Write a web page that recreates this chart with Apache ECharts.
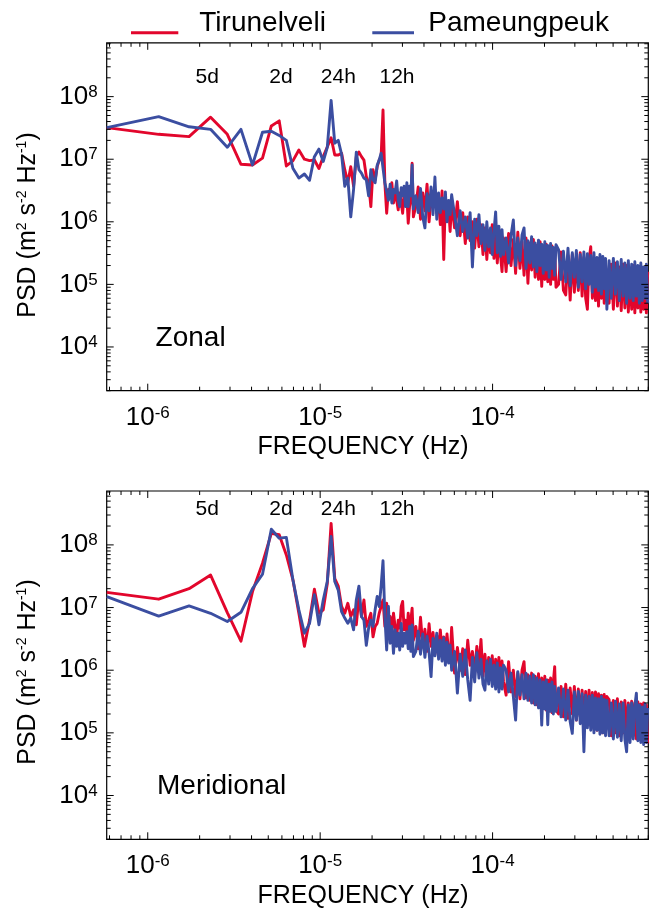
<!DOCTYPE html>
<html><head><meta charset="utf-8">
<script src="https://cdn.jsdelivr.net/npm/echarts@6/dist/echarts.min.js"></script>
<style>html,body{margin:0;padding:0;background:#fff}#c{width:650px;height:912px}</style>
</head><body><div id="c"></div>
<script>
// ---- data ----
const recordLengthSec = 20 * 86400; // 20-day record -> fundamental frequency
// harmonic numbers of the plotted spectral estimates: [start, end, step]
const harmonicRanges = [[1,60,1],[62,100,2],[104,200,4],[207,403,7],[417,795,14],[819,1371,24]];
const seriesNames = ['Tirunelveli', 'Pameungpeuk'];
const panelNames = ['Zonal', 'Meridional'];
const periodLabels = ['5d', '2d', '24h', '12h'];

const zonalTirunelveli = [
3.2e7,2.5e7,2.3e7,4.7e7,2.5e7,8.3e6,8.1e6,1.04e7,3.4e7,4.1e7,
7.8e6,9.4e6,1.4e7,1.0e7,9.5e6,9.7e6,7.1e6,1.1e7,1.57e7,2.2e7,
1.17e7,1.17e7,1.25e7,6.8e6,4.2e6,7.6e6,3.7e6,1.1e7,1.3e7,1.1e7,
9.7e6,5.3e6,4.2e6,1.75e6,6.8e6,4.7e6,7.6e6,9.7e6,1.1e7,6.1e7,
4.2e6,1.37e6,3.3e6,2.6e6,4.2e6,2.0e6,2.9e6,2.2e6,1.55e6,2.9e6,
2.0e6,1.37e6,2.9e6,2.2e6,2.6e6,9.5e5,1.75e6,2.2e6,8.6e6,1.2e6,
1.8e6,3.6e6,1.1e6,2.9e6,1.5e6,4.0e6,1.0e6,2.5e6,1.7e6,3.2e6,1.4e6,2.1e6,9e5,3.1e6,2.5e5,2.4e6,1.2e6,1.8e6,7e5,2.0e6,
8e5,2.1e6,6e5,1.4e6,4.5e5,1.2e6,5e5,1.0e6,3.8e5,1.1e6,4e5,9e5,3e5,8e5,2.5e5,7e5,3.2e5,9e5,2.6e5,6.5e5,2.2e5,6e5,3e5,1.6e5,5.5e5,
1.6e5,6.5e5,2.0e5,5.2e5,1.5e5,6.8e5,1.8e5,4.8e5,1.4e5,5.5e5,1.04e5,4.6e5,1.7e5,5.2e5,1.3e5,4.2e5,1.2e5,4.8e5,9.3e4,4.0e5,1.2e5,4.4e5,1.1e5,3.8e5,1.0e5,4.1e5,1.2e5,3.6e5,9e4,
1.0e5,3.3e5,8e4,6.8e4,2.9e5,5.6e4,3.0e5,7.5e4,2.6e5,8e4,3.2e5,6.5e4,2.7e5,6e4,4e4,2.5e5,4.0e5,6e4,2.4e5,5.5e4,2.6e5,4.5e4,2.2e5,6e4,2.5e5,5e4,2.1e5,5.5e4,
5e4,2.1e5,4e4,2.2e5,4.5e4,1.9e5,3.8e4,2.1e5,4.2e4,2.0e5,3.6e4,1.8e5,4e4,2.0e5,3.5e4,1.7e5,4.2e4,1.9e5,3.6e4,1.8e5,4e4,1.7e5,3.5e4,1.6e5
];
const zonalPameungpeuk = [
3.2e7,4.8e7,3.3e7,3.0e7,1.55e7,3.0e7,8.1e6,2.7e7,2.8e7,2.4e7,
2.0e7,7.2e6,5.0e6,5.8e6,4.6e6,1.1e7,1.45e7,9.2e6,1.55e7,8.7e7,
1.8e7,2.0e7,1.2e7,3.7e6,5.0e6,1.2e6,3.3e6,1.3e7,6.8e6,6.0e6,
5.0e6,4.7e6,2.6e6,6.8e6,4.7e6,4.2e6,8.0e6,9.7e6,1.25e7,1.3e7,
4.2e6,4.0e6,2.2e6,4.0e6,2.0e6,3.3e6,2.9e6,4.5e6,2.2e6,1.75e6,
3.5e6,2.6e6,3.7e6,1.75e6,4.2e6,1.75e6,3.7e6,2.6e6,8.1e6,1.6e6,
2.6e6,1.4e6,3.4e6,1.2e6,8e5,2.8e6,1.5e6,3.6e6,1.3e6,5.2e6,1.1e6,2.9e6,1.4e6,2.4e6,1.6e6,3.0e6,1.0e6,2.2e6,1.3e6,2.7e6,
1.3e6,6e5,1.5e6,7e5,1.2e6,5.5e5,1.4e6,1.9e5,1.1e6,6e5,1.3e6,4.5e5,9e5,3.5e5,1.0e6,4e5,8e5,3e5,7e5,1.44e6,3.2e5,8.5e5,2.8e5,7.5e5,3.0e5,
5.5e5,2.2e5,6e5,1.07e6,2.0e5,5.5e5,2.4e5,6.2e5,8e5,1.8e5,5e5,2.2e5,5.8e5,1.9e5,4.6e5,1.6e5,5.1e5,2.0e5,4.4e5,1.5e5,4.8e5,1.7e5,4.2e5,1.3e5,4.5e5,1.8e5,3.9e5,1.4e5,4.3e5,
3.6e5,1.2e5,3.4e5,1.1e5,3.8e5,9.5e4,3.2e5,1.3e5,3.5e5,9e4,3.0e5,1.1e5,3.3e5,8.5e4,3.1e5,1.0e5,2.9e5,7.5e4,3.2e5,9e4,2.7e5,8e4,3.0e5,7e4,2.8e5,8.5e4,2.6e5,4e4,
2.4e5,6e4,2.6e5,7e4,2.3e5,5.5e4,2.5e5,6.5e4,2.2e5,5e4,2.4e5,6e4,2.1e5,5.5e4,2.3e5,6.5e4,2.0e5,5e4,2.2e5,5.5e4,1.9e5,6e4,2.1e5,5e4
];
const meridionalTirunelveli = [
1.75e7,1.36e7,2.0e7,3.3e7,8.3e6,2.9e6,1.8e7,5.1e7,1.53e8,1.45e8,
6.9e7,2.8e7,8.1e6,2.4e6,6.3e6,1.96e7,8.1e6,9.2e6,2.4e7,2.2e8,
2.9e7,2.2e7,1.04e7,8.1e6,1.17e7,7.2e6,9.2e6,5.3e6,1.5e7,7.2e6,
1.32e7,5.0e6,6.3e6,8.1e6,3.4e6,5.0e6,5.6e6,8.1e6,1.04e7,1.32e7,
5.0e6,1.17e7,5.0e6,7.2e6,3.9e6,8.1e6,5.0e6,3.4e6,6.3e6,4.7e6,
1.04e7,1.25e7,4.4e6,6.3e6,3.9e6,8.1e6,4.4e6,6.3e6,9.8e6,3.0e6,
5.0e6,2.2e6,7.0e6,2.5e6,4.5e6,2.0e6,5.5e6,2.4e6,4.0e6,1.8e6,3.6e6,2.2e6,4.4e6,1.9e6,3.4e6,1.6e6,3.8e6,2.0e6,1.5e6,4.8e6,
9e5,2.3e6,1.0e6,2.2e6,8.5e5,3.0e6,1.2e6,2.0e6,9e5,2.4e6,1.1e6,3.1e6,8e5,1.8e6,7.5e5,1.6e6,8e5,1.7e6,6.5e5,1.5e6,7e5,1.6e6,6e5,1.4e6,6.5e5,
4e5,1.37e6,4.5e5,1.0e6,3.8e5,9e5,3.5e5,1.0e6,1.37e6,3.6e5,8.5e5,3.3e5,9e5,3e5,8e5,2.8e5,8.8e5,2.6e5,7.5e5,2.5e5,8e5,2.3e5,7e5,2.4e5,7.5e5,2.1e5,6.5e5,1.14e6,2.3e5,
2.0e5,5.5e5,1.8e5,6.0e5,1.7e5,5.2e5,2.0e5,5.5e5,1.6e5,5.0e5,1.8e5,4.8e5,1.5e5,4.6e5,1.4e5,4.8e5,1.3e5,4.4e5,1.2e5,4.5e5,1.1e5,4.2e5,1.2e5,4.0e5,1.0e5,4.1e5,1.1e5,3.8e5,
3.4e5,9e4,3.3e5,1.0e5,3.5e5,9e4,3.1e5,1.0e5,3.3e5,9.5e4,3.0e5,8.5e4,3.2e5,9e4,3.0e5,8e4,3.1e5,8.5e4,2.9e5,7.5e4,3.0e5,8e4,2.8e5,6.8e4
];
const meridionalPameungpeuk = [
1.5e7,7.3e6,1.06e7,8.1e6,6.0e6,8.4e6,2.0e7,3.4e7,1.78e8,1.28e8,
1.32e8,2.8e7,9.2e6,3.9e6,5.6e6,1.6e7,5.3e6,1.32e7,2.6e7,1.36e8,
2.6e7,1.9e7,8.6e6,6.8e6,5.6e6,6.8e6,4.4e6,1.32e7,2.2e7,7.2e6,
6.3e6,2.5e6,4.7e6,6.3e6,5.0e6,9.2e6,1.5e7,1.04e7,2.2e7,5.6e7,
7.2e6,2.1e6,1.04e7,2.7e6,5.0e6,1.86e6,4.4e6,2.4e6,3.9e6,2.1e6,
5.6e6,2.4e6,3.9e6,2.7e6,4.1e6,2.2e6,5.0e6,2.0e6,5.3e6,1.65e6,
2.0e6,4.2e6,1.8e6,3.8e6,1.6e6,3.5e6,1.9e6,7.9e5,3.2e6,1.7e6,3.9e6,1.5e6,3.0e6,1.4e6,3.3e6,1.2e6,2.8e6,1.3e6,2.5e6,1.0e6,
2.0e6,4.3e5,1.8e6,8e5,2.1e6,7e5,3.3e5,1.6e6,6.5e5,1.9e6,7.5e5,1.5e6,6e5,4.8e5,1.4e6,6e5,1.5e6,5.5e5,1.2e6,5e5,1.3e6,4.5e5,1.1e6,5e5,1.2e6,
1.0e6,4.5e5,9e5,3.8e5,1.6e5,9.5e5,4e5,8.5e5,3.5e5,9e5,3.3e5,8e5,3e5,8.5e5,2.8e5,7.5e5,2.5e5,7e5,1.33e5,6.5e5,2.4e5,7e5,1.35e5,6e5,2.2e5,6.5e5,2.0e5,5.5e5,2.2e5,
5.2e5,1.8e5,5.0e5,1.6e5,4.8e5,1.5e5,9.8e4,4.5e5,1.6e5,4.6e5,1.4e5,4.2e5,5.0e4,4.0e5,1.2e5,3.8e5,1.1e5,4.0e5,1.0e5,3.6e5,1.1e5,3.5e5,9.5e4,3.8e5,1.0e5,3.4e5,9e4,3.3e5,
9e4,3.0e5,8e4,3.2e5,8.5e4,2.9e5,7.5e4,3.0e5,8e4,5.0e4,2.8e5,7e4,3.0e5,8e4,2.7e5,4.3e5,7.5e4,2.8e5,7e4,2.6e5,6.5e4,2.9e5,7e4,2.5e5
];

// ---- build ----
const harmonics = [];
harmonicRanges.forEach(([a, b, s]) => { for (let n = a; n <= b; n += s) harmonics.push(n); });
const freqs = harmonics.map(n => n / recordLengthSec);
const pairs = vals => vals.map((v, i) => [freqs[i], v]);

const RED = '#E2062C', BLUE = '#3B4EA1';
const FONT = "'Liberation Sans', Arial, sans-serif";
const xMin = 5.78e-7, xMax = 8.0e-4, yMin = 2e3, yMax = 7.25e8;
const gridDefs = [
  {left: 106.7, right: 1.7, top: 42.8, height: 347.9},
  {left: 106.7, right: 1.7, top: 491, height: 348.3}
];

const xTicks = [], yTicks = [];
for (let d = -7; d <= -3; d++) for (let k = 1; k <= 9; k++) {
  const v = k * Math.pow(10, d);
  if (v >= xMin && v <= xMax) xTicks.push([v, yMin, k === 1 ? 7 : 4]);
}
for (let d = 3; d <= 8; d++) for (let k = 1; k <= 9; k++) {
  const v = k * Math.pow(10, d);
  if (v >= yMin && v <= yMax) yTicks.push([xMin, v, k === 1 ? 7 : 4]);
}

function powLabel(v) {
  const e = Math.log10(v), r = Math.round(e);
  if (Math.abs(e - r) > 1e-6) return '';
  return '{b|10}{e|' + r + '}';
}
const labelRich = {
  b: {fontSize: 26, fontFamily: FONT, color: '#000'},
  e: {fontSize: 17, fontFamily: FONT, color: '#000', verticalAlign: 'top'}
};

const xAxes = [], yAxes = [], series = [];
const panelData = [[zonalTirunelveli, zonalPameungpeuk], [meridionalTirunelveli, meridionalPameungpeuk]];
[0, 1].forEach(i => {
  xAxes.push({type: 'log', logBase: 10, gridIndex: i, min: xMin, max: xMax,
    axisLine: {show: false}, axisTick: {show: false}, splitLine: {show: false},
    axisLabel: {margin: 14, formatter: powLabel, rich: labelRich, showMinLabel: false, showMaxLabel: false}});
  yAxes.push({type: 'log', logBase: 10, gridIndex: i, min: yMin, max: yMax,
    axisLine: {show: false}, axisTick: {show: false}, splitLine: {show: false},
    axisLabel: {margin: 9, formatter: powLabel, rich: labelRich, showMinLabel: false, showMaxLabel: false}});
  [RED, BLUE].forEach((c, j) => {
    series.push({type: 'line', name: seriesNames[j], xAxisIndex: i, yAxisIndex: i,
      data: pairs(panelData[i][j]), showSymbol: false, symbol: 'none', silent: true,
      lineStyle: {color: c, width: 2.9, join: 'round'}, emphasis: {disabled: true}, z: 2 + j});
  });
  series.push({type: 'custom', xAxisIndex: i, yAxisIndex: i, silent: true, clip: false, z: 10,
    encode: {x: 0, y: 1}, data: xTicks,
    renderItem: (p, api) => {
      const v = api.value(0), len = api.value(2);
      const b = api.coord([v, yMin]), t = api.coord([v, yMax]);
      return {type: 'group', children: [
        {type: 'line', shape: {x1: b[0], y1: b[1], x2: b[0], y2: b[1] - len}, style: {stroke: '#000', lineWidth: 1}},
        {type: 'line', shape: {x1: t[0], y1: t[1], x2: t[0], y2: t[1] + len}, style: {stroke: '#000', lineWidth: 1}}
      ]};
    }});
  series.push({type: 'custom', xAxisIndex: i, yAxisIndex: i, silent: true, clip: false, z: 10,
    encode: {x: 0, y: 1}, data: yTicks,
    renderItem: (p, api) => {
      const v = api.value(1), len = api.value(2);
      const l = api.coord([xMin, v]), r = api.coord([xMax, v]);
      return {type: 'group', children: [
        {type: 'line', shape: {x1: l[0], y1: l[1], x2: l[0] + len, y2: l[1]}, style: {stroke: '#000', lineWidth: 1}},
        {type: 'line', shape: {x1: r[0], y1: r[1], x2: r[0] - len, y2: r[1]}, style: {stroke: '#000', lineWidth: 1}}
      ]};
    }});
});

const txt = (x, y, text, size, extra) => Object.assign({type: 'text', x: x, y: y, silent: true,
  style: Object.assign({text: text, fontSize: size, fontFamily: FONT, fill: '#000', align: 'center', verticalAlign: 'middle'}, extra || {})});
const supRich = {s: {fontSize: 14, fontFamily: FONT, fill: '#000', verticalAlign: 'top'}};
const psdName = 'PSD (m{s|2} s{s|-2} Hz{s|-1})';
const graphics = [
  {type: 'line', shape: {x1: 131, y1: 32.7, x2: 178.3, y2: 32.7}, style: {stroke: RED, lineWidth: 3}},
  txt(199.3, 23, seriesNames[0], 28, {align: 'left'}),
  {type: 'line', shape: {x1: 372.3, y1: 32.7, x2: 414, y2: 32.7}, style: {stroke: BLUE, lineWidth: 3}},
  txt(428.3, 23, seriesNames[1], 28, {align: 'left'}),
  txt(363, 447.5, 'FREQUENCY (Hz)', 25),
  txt(363, 896, 'FREQUENCY (Hz)', 25),
  txt(155.6, 338, panelNames[0], 28, {align: 'left'}),
  txt(157, 786, panelNames[1], 28, {align: 'left'}),
  Object.assign(txt(28, 225, psdName, 25, {rich: supRich}), {rotation: Math.PI / 2}),
  Object.assign(txt(28, 672, psdName, 25, {rich: supRich}), {rotation: Math.PI / 2})
];
const labelX = [207.3, 281, 338.3, 397];
[77.5, 509].forEach(y => labelX.forEach((x, k) => graphics.push(txt(x, y, periodLabels[k], 21))));

const chart = echarts.init(document.getElementById('c'), null, {renderer: 'canvas'});
chart.setOption({
  animation: false,
  backgroundColor: '#fff',
  grid: gridDefs.map(g => Object.assign({show: true, borderColor: '#000', borderWidth: 1.2, backgroundColor: 'transparent'}, g)),
  xAxis: xAxes, yAxis: yAxes, series: series, graphic: graphics
});
</script></body></html>
